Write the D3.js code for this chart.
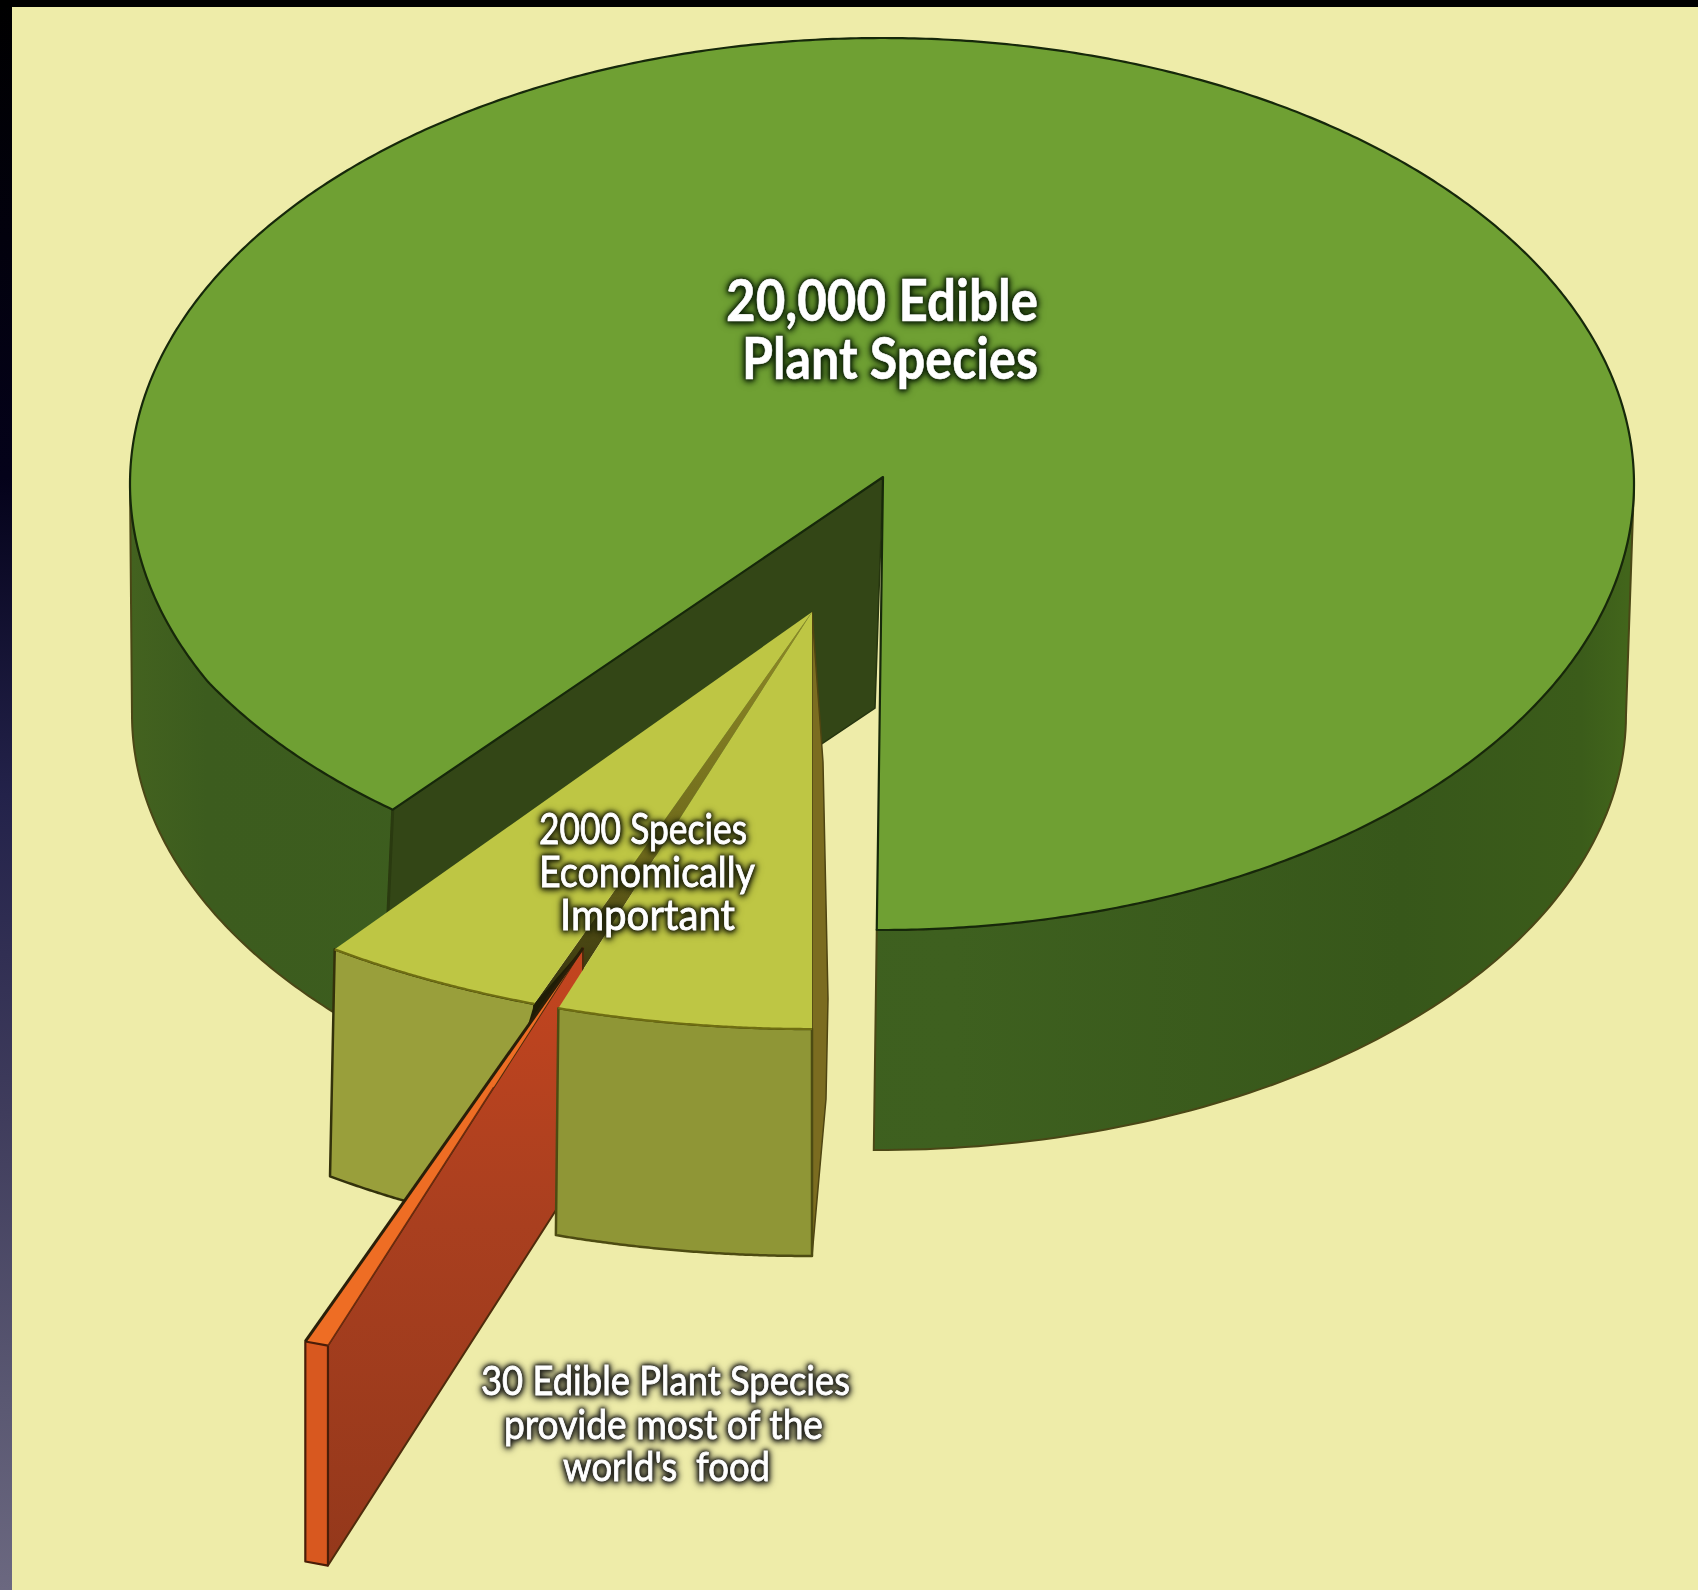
<!DOCTYPE html>
<html>
<head>
<meta charset="utf-8">
<script src="https://cdnjs.cloudflare.com/ajax/libs/d3/7.8.5/d3.min.js"></script>
<style>
  html, body { margin: 0; padding: 0; background: #eeeca9; }
  svg { display: block; }
  text { font-family: Lato, "Open Sans", sans-serif; fill: #fff; white-space: pre; }
</style>
</head>
<body>
<svg id="chart" width="1698" height="1590"></svg>
<script>
// Species counts shown on the pie
const totalSpecies = 20000;
const economicSpecies = 2000;
const stapleSpecies = 30;

// Label text, one array per label
const totalLabel = ["20,000 Edible", "Plant Species"];
const economicLabel = ["2000 Species", "Economically", "Important"];
const stapleLabel = ["30 Edible Plant Species", "provide most of the", "world's  food"];

const W = 1698, H = 1590;
const svg = d3.select("#chart");
const rad = d => d * Math.PI / 180;

// Ellipses for the top and bottom rims of each solid
const mainTop = { cx: 882, cy: 484, rx: 752, ry: 446 };
const mainBottom = { cx: 879, cy: 715, rx: 747, ry: 435 };
const wedgeTop = { cx: 812, cy: 612, rx: 812, ry: 417 };
const wedgeBottom = { cx: 812, cy: 839, rx: 820, ry: 417 };
const slabTop = { cx: 583, cy: 948, rx: 808, ry: 419 };
const slabBottom = { cx: 583, cy: 1168, rx: 808, ry: 419 };

const apex = [883, 477];
const apexFloor = [875, 708];

// Value to sweep angle, with the whole pie standing for every edible species
const sweep = d3.scaleLinear().domain([0, totalSpecies]).range([0, 2 * Math.PI]);

// Pie layout starting at the front of the disc, running clockwise
const pieAngles = d3.pie().sort(null)
  .startAngle(Math.PI).endAngle(3 * Math.PI)([economicSpecies, totalSpecies - economicSpecies]);
const wedgeArc = pieAngles[0];
const mainArc = pieAngles[1];

const notchClearance = rad(5.7);
const mainStart = mainArc.startAngle + notchClearance;
const mainEnd = mainArc.endAngle + rad(0.4);

// The thin slab is given a minimum sweep so it stays visible
const slabStart = rad(198.4);
const slabEnd = slabStart + Math.max(sweep(stapleSpecies), rad(1.7));
const grooveStart = rad(198.2);
const grooveEnd = rad(200);

const pt = (e, t) => [e.cx + e.rx * Math.sin(t), e.cy - e.ry * Math.cos(t)];
const rim = (e, t0, t1, n = 90) =>
  d3.range(n + 1).map(i => pt(e, t0 + (t1 - t0) * i / n));
const line = d3.line();
const closed = pts => line(pts) + "Z";
const lerp = (a, b, f) => [a[0] + (b[0] - a[0]) * f, a[1] + (b[1] - a[1]) * f];

// The disc rim draws in slightly as it approaches the notch corner
const pinchSpan = rad(22);
const pinched = t => {
  const s = 1 - 0.022 * Math.max(0, 1 - (t - mainStart) / pinchSpan);
  const p = pt(mainTop, t);
  return [mainTop.cx + (p[0] - mainTop.cx) * s, mainTop.cy + (p[1] - mainTop.cy) * s];
};
const mainRim = (t0, t1, n = 360) =>
  d3.range(n + 1).map(i => pinched(t0 + (t1 - t0) * i / n));

// Definitions
const defs = svg.append("defs");
function gradient(id, x1, y1, x2, y2, stops) {
  const g = defs.append("linearGradient").attr("id", id)
    .attr("x1", x1).attr("y1", y1).attr("x2", x2).attr("y2", y2);
  stops.forEach(([o, c]) => g.append("stop").attr("offset", o).attr("stop-color", c));
}
gradient("edge", 0, 0, 0, 1, [[0, "#000000"], [0.3, "#04021a"], [0.5, "#23224a"], [0.7, "#3f3c5c"], [0.88, "#5a5872"], [1, "#6b6880"]]);
gradient("mainWallFill", mainBottom.cx - mainBottom.rx, 0, mainBottom.cx + mainBottom.rx, 0,
  [[0, "#43621f"], [0.05, "#3c5c1e"], [0.55, "#3e601f"], [0.85, "#37571a"], [0.97, "#3b5c1a"], [1, "#42651b"]]);
defs.select("#mainWallFill").attr("gradientUnits", "userSpaceOnUse");
gradient("faceFill", 0, 0, 0, 1, [[0, "#c4451f"], [0.45, "#a93f1f"], [1, "#94381b"]]);
gradient("grooveFill", 0, 0, 0, 1, [[0, "#8f8a26"], [0.6, "#6f6a1c"], [1, "#2e2c0c"]]);

// Page background and the frame along the top and left
svg.append("rect").attr("width", W).attr("height", H).attr("fill", "#eeeca9");
svg.append("rect").attr("width", 12).attr("height", H).attr("fill", "url(#edge)");
svg.append("rect").attr("width", W).attr("height", 7).attr("fill", "#000");

const rimDark = "#16280a";
const wallEdge = "#4a4716";

// Outer wall of the main disc, both visible stretches
const frontRight = mainEnd - 2 * Math.PI;
const rightWall = rim(mainTop, rad(90), frontRight).concat(rim(mainBottom, frontRight, rad(90)));
const leftWall = mainRim(mainStart, rad(270)).concat(rim(mainBottom, rad(270), mainStart));
[rightWall, leftWall].forEach(p => {
  svg.append("path").attr("d", closed(p))
    .attr("fill", "url(#mainWallFill)").attr("stroke", wallEdge).attr("stroke-width", 2);
});

// Cut face inside the notch
const tip = pinched(mainStart);
const tipFloor = pt(mainBottom, mainStart);
svg.append("path").attr("d", closed([apex, tip, tipFloor, apexFloor]))
  .attr("fill", "#334616").attr("stroke", "#26350f").attr("stroke-width", 1.5);
svg.append("path").attr("d", line([tip, tipFloor])).attr("stroke", "#2a3a10").attr("stroke-width", 3).attr("fill", "none");

// Top of the main disc
svg.append("path")
  .attr("d", closed([apex].concat(mainRim(mainStart, mainEnd, 720))))
  .attr("fill", "#6fa033").attr("stroke", rimDark).attr("stroke-width", 2.2).attr("stroke-linejoin", "round");

// Economic wedge: left wall
const wedgeFarT = wedgeArc.endAngle;
const leftPiece = rim(wedgeTop, grooveEnd, wedgeFarT).concat(rim(wedgeBottom, wedgeFarT, grooveEnd));
svg.append("path").attr("d", closed(leftPiece))
  .attr("fill", "#999f3b").attr("stroke", "#33310b").attr("stroke-width", 2.5).attr("stroke-linejoin", "round");

// Narrow cut face along the right of the wedge
const centre = [wedgeTop.cx, wedgeTop.cy];
const wedgeCorner = pt(wedgeTop, wedgeArc.startAngle);
const wedgeFloor = pt(wedgeBottom, wedgeArc.startAngle);
svg.append("path").attr("d", closed([
    centre,
    [wedgeTop.cx + 11, wedgeTop.cy + 150],
    [wedgeTop.cx + 16, wedgeCorner[1] - 30],
    [wedgeTop.cx + 14, wedgeCorner[1] + 70],
    wedgeFloor
  ]))
  .attr("fill", "#7b6c20").attr("stroke", "#4f4512").attr("stroke-width", 1.5);

// Groove left behind where the slab was pulled out
const grooveRight = pt(wedgeTop, grooveStart);
const grooveLeft = pt(wedgeTop, grooveEnd);
svg.append("path").attr("d", closed([centre, grooveRight, grooveLeft]))
  .attr("fill", "url(#grooveFill)");

// Side of the slab
const slabA = pt(slabTop, slabStart);
const slabB = pt(slabTop, slabEnd);
const slabAF = pt(slabBottom, slabStart);
const slabBF = pt(slabBottom, slabEnd);
const slabC = [slabTop.cx, slabTop.cy];
const slabCF = [slabBottom.cx, slabBottom.cy];

// Shadow where the slab meets the left wedge wall
svg.append("path").attr("d", closed([slabC, grooveLeft, lerp(slabC, slabB, 0.2)]))
  .attr("fill", "#1f1d06");

svg.append("path").attr("d", closed([slabC, slabA, slabAF, slabCF]))
  .attr("fill", "url(#faceFill)").attr("stroke", "#4f2c0c").attr("stroke-width", 2).attr("stroke-linejoin", "round");

// Right part of the wedge wall and the two wedge tops, over the slab side
const rightPiece = rim(wedgeTop, wedgeArc.startAngle, grooveStart).concat(rim(wedgeBottom, grooveStart, wedgeArc.startAngle));
svg.append("path").attr("d", closed(rightPiece))
  .attr("fill", "#8f9636").attr("stroke", "#4d4b12").attr("stroke-width", 2.5).attr("stroke-linejoin", "round");

const wedgeLeftTop = [centre].concat(rim(wedgeTop, grooveEnd, wedgeFarT));
const wedgeRightTop = [centre].concat(rim(wedgeTop, wedgeArc.startAngle, grooveStart));
[wedgeLeftTop, wedgeRightTop].forEach(p => {
  svg.append("path").attr("d", closed(p)).attr("fill", "#bec644");
  svg.append("path").attr("d", line(p.slice(1))).attr("fill", "none")
    .attr("stroke", "#6f6e12").attr("stroke-width", 2.2);
});

// Slab: top strip and front face
svg.append("path").attr("d", closed([slabC, slabB, slabA]))
  .attr("fill", "#ee6d24");
svg.append("path").attr("d", closed([slabB, slabA, slabAF, slabBF]))
  .attr("fill", "#d8581f").attr("stroke", "#4a1d08").attr("stroke-width", 2.2).attr("stroke-linejoin", "round");
svg.append("path").attr("d", line([slabC, slabB])).attr("stroke", "#2a1f08").attr("stroke-width", 3).attr("fill", "none");
svg.append("path").attr("d", line([lerp(slabC, slabA, 0.35), slabA])).attr("stroke", "#6d2a0e").attr("stroke-width", 1.5).attr("fill", "none");

// Labels, each line fitted to its measured width
const labelLayout = [
  { lines: totalLabel, size: 57, weight: 700, edge: 0.6, glow: "#122808", starts: [726, 742], widths: [312, 296], bases: [321, 379] },
  { lines: economicLabel, size: 42, weight: 400, edge: 0.9, glow: "#23260a", starts: [539, 539, 560], widths: [208, 216, 175], bases: [844, 887, 930] },
  { lines: stapleLabel, size: 41, weight: 400, edge: 0.9, glow: "#26261f", starts: [481, 504, 563], widths: [369, 319, 207], bases: [1395, 1439, 1481] }
];
labelLayout.forEach(l => {
  svg.append("g")
    .style("filter", `drop-shadow(0 0 1.5px ${l.glow}) drop-shadow(0 0 2.5px ${l.glow}) drop-shadow(0 1px 3px ${l.glow})`)
    .selectAll("text").data(l.lines).join("text")
    .attr("x", (d, i) => l.starts[i])
    .attr("y", (d, i) => l.bases[i])
    .attr("textLength", (d, i) => l.widths[i])
    .attr("lengthAdjust", "spacingAndGlyphs")
    .attr("font-size", l.size)
    .attr("font-weight", l.weight)
    .attr("stroke", "#fff")
    .attr("stroke-width", l.edge)
    .text(d => d);
});
</script>
</body>
</html>
